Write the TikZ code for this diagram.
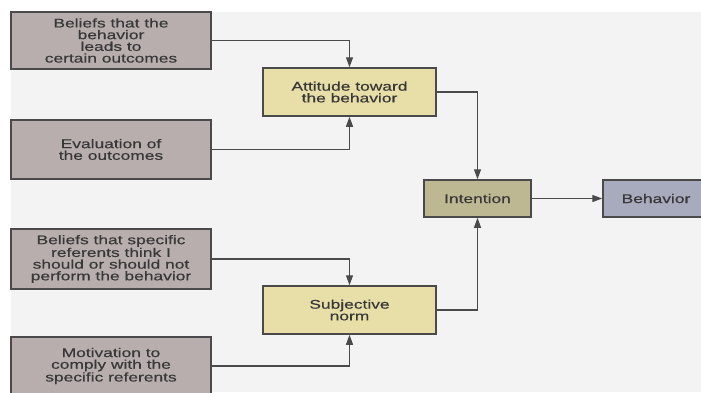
\documentclass[tikz,border=0pt]{standalone}
\usepackage{fontspec}
\setmainfont{Liberation Sans}[FakeStretch=1.38,FakeBold=0.5]
\usetikzlibrary{arrows.meta}
\definecolor{bgGray}{HTML}{F3F3F3}
\definecolor{lineGray}{HTML}{4A4A4A}
\definecolor{textGray}{HTML}{383838}
\definecolor{beliefFill}{HTML}{B9AEAE}
\definecolor{attFill}{HTML}{E8DFA8}
\definecolor{intFill}{HTML}{BDB891}
\definecolor{behFill}{HTML}{A8AABE}
\tikzstyle{baseNode}=[draw=lineGray,line width=1.5pt,rectangle,inner sep=0pt,align=center,text=textGray,font=\fontsize{12.6}{11.7}\selectfont]
\tikzstyle{sourceNode}=[baseNode,fill=beliefFill,minimum width=200pt]
\tikzstyle{middleNode}=[baseNode,fill=attFill,minimum width=173pt,minimum height=48pt]
\tikzstyle{transition}=[-{Triangle[length=10pt,width=7pt]},line width=1.2pt,draw=lineGray]

\begin{document}
\begin{tikzpicture}[x=1pt,y=-1pt]

    \useasboundingbox (0,0) rectangle (701,392);
    \fill[bgGray] (0,0) rectangle (701,392);
    \fill[white] (0,0) rectangle (701,12);
    \fill[white] (0,0) rectangle (11,392);

    \node[sourceNode,minimum height=57pt] (b1) at (111, 40.5) {Beliefs that the\\behavior\\leads to\\certain outcomes};
    \node[sourceNode,minimum height=59pt] (e1) at (111, 149.5) {Evaluation of\\the outcomes};
    \node[sourceNode,minimum height=60pt] (b2) at (111, 259) {Beliefs that specific\\referents think I\\should or should not\\perform the behavior};
    \node[sourceNode,minimum height=58pt] (m2) at (111, 366) {Motivation to\\comply with the\\specific referents};
    \node[middleNode] (att) at (349.5, 92) {Attitude toward\\the behavior};
    \node[middleNode] (sub) at (349.5, 310) {Subjective\\norm};
    \node[baseNode,fill=intFill,minimum width=107pt,minimum height=37pt] (int) at (477.5, 198.5) {Intention};
    \node[baseNode,fill=behFill,minimum width=106pt,minimum height=37pt] (beh) at (656, 198.5) {Behavior};

    \draw[transition] (b1.east) -| (att.north);
    \draw[transition] (e1.east) -| (att.south);
    \draw[transition] (b2.east) -| (sub.north);
    \draw[transition] (m2.east) -| (sub.south);
    \draw[transition] (att.east) -| (int.north);
    \draw[transition] (sub.east) -| (int.south);
    \draw[transition] (int) to (beh);

\end{tikzpicture}
\end{document}
